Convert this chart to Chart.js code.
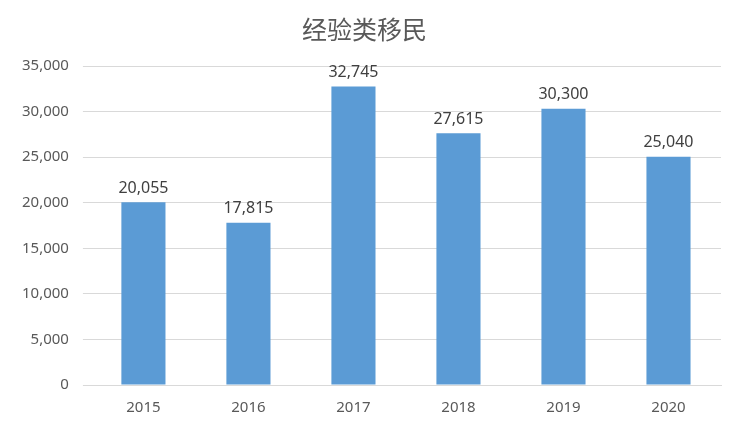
<!DOCTYPE html>
<html>
<head>
<meta charset="utf-8">
<script src="https://cdn.jsdelivr.net/npm/chart.js@4/dist/chart.umd.min.js"></script>
<style>
  html, body { margin: 0; padding: 0; background: #fff; }
  #wrap { width: 741px; height: 431px; }
</style>
</head>
<body>
<div id="wrap"><canvas id="chart"></canvas></div>
<script>
const years = ["2015", "2016", "2017", "2018", "2019", "2020"];
const immigrants = [20055, 17815, 32745, 27615, 30300, 25040];
const yTicks = [0, 5000, 10000, 15000, 20000, 25000, 30000, 35000];

const fmt = (n) => n.toLocaleString("en-US");

// value labels above each bar
const barLabels = {
  id: "barLabels",
  afterDatasetsDraw(chart) {
    const { ctx } = chart;
    const meta = chart.getDatasetMeta(0);
    ctx.save();
    ctx.font = "16px 'Noto Sans', sans-serif";
    ctx.fillStyle = "#404040";
    ctx.textAlign = "center";
    ctx.textBaseline = "bottom";
    meta.data.forEach((bar, i) => {
      ctx.fillText(fmt(immigrants[i]), bar.x, bar.y - 6);
    });
    ctx.restore();
  },
};

new Chart(document.getElementById("chart"), {
  type: "bar",
  data: {
    labels: years,
    datasets: [{
      data: immigrants,
      backgroundColor: "#5B9BD5",
      barPercentage: 0.42,
      categoryPercentage: 1,
    }],
  },
  options: {
    responsive: true,
    maintainAspectRatio: false,
    animation: false,
    layout: { padding: { left: 8, right: 20, top: 0, bottom: 8 } },
    plugins: {
      legend: { display: false },
      tooltip: { enabled: false },
      title: {
        display: true,
        text: "经验类移民",
        color: "#595959",
        font: { size: 25, family: "'Noto Sans CJK SC', sans-serif", weight: "normal" },
        padding: { top: 14, bottom: 22 },
      },
    },
    scales: {
      x: {
        grid: { display: false },
        border: { color: "#d9d9d9" },
        ticks: { color: "#595959", font: { size: 15, family: "'Noto Sans', sans-serif" }, padding: 6 },
      },
      y: {
        min: 0,
        max: 35000,
        afterBuildTicks(axis) { axis.ticks = yTicks.map((v) => ({ value: v })); },
        grid: { color: "#d9d9d9" },
        border: { display: false },
        ticks: {
          color: "#595959",
          font: { size: 15, family: "'Noto Sans', sans-serif" },
          padding: 14,
          callback: (v) => fmt(v),
        },
      },
    },
  },
  plugins: [barLabels],
});
</script>
</body>
</html>
